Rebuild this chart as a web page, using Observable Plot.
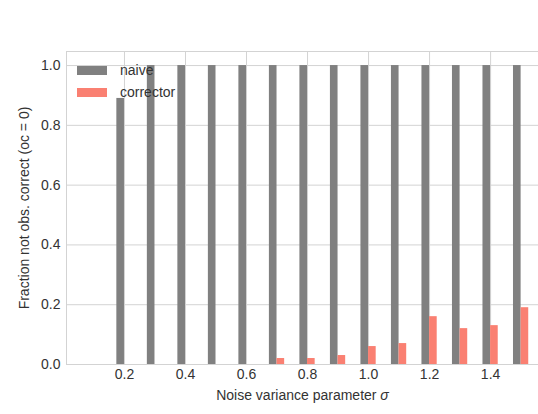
<!DOCTYPE html>
<html>
<head>
<meta charset="utf-8">
<script src="https://cdn.jsdelivr.net/npm/d3@7"></script>
<script src="https://cdn.jsdelivr.net/npm/@observablehq/plot@0.6"></script>
<style>
  html, body { margin: 0; padding: 0; background: #fff; }
  #wrap { position: relative; width: 538px; height: 414px; font-family: "Liberation Sans", Arial, sans-serif; }
  #legend { position: absolute; left: 77px; top: 59px; font-size: 14px; color: #333; }
  .li { display: flex; align-items: center; height: 22px; }
  .sw { width: 30px; height: 9px; margin-right: 13px; }
</style>
</head>
<body>
<div id="wrap"></div>
<script>
const sigmas = [0.2, 0.3, 0.4, 0.5, 0.6, 0.7, 0.8, 0.9, 1.0, 1.1, 1.2, 1.3, 1.4, 1.5];
const naive = [0.89, 1, 1, 1, 1, 1, 1, 1, 1, 1, 1, 1, 1, 1];
const corrector = [0, 0, 0, 0, 0, 0.02, 0.02, 0.03, 0.06, 0.07, 0.16, 0.12, 0.13, 0.19];
const seriesNames = ["naive", "corrector"];
const seriesColors = ["#808080", "#fa8072"];
const xTicks = [0.2, 0.4, 0.6, 0.8, 1.0, 1.2, 1.4];
const yTicks = [0, 0.2, 0.4, 0.6, 0.8, 1.0];
const xLabel = "Noise variance parameter ";
const xLabelSymbol = "σ";
const yLabel = "Fraction not obs. correct (oc = 0)";
const barWidth = 0.025;

const rows = [];
sigmas.forEach((s, i) => {
  rows.push({series: "naive", x1: s - barWidth, x2: s, y: naive[i]});
  rows.push({series: "corrector", x1: s, x2: s + barWidth, y: corrector[i]});
});

const chart = Plot.plot({
  width: 538,
  height: 414,
  marginLeft: 66,
  marginRight: 0,
  marginTop: 51,
  marginBottom: 50,
  style: {fontFamily: '"Liberation Sans", Arial, sans-serif', fontSize: "14px", color: "#333", background: "#fff"},
  x: {domain: [0.01, 1.557], label: null},
  y: {domain: [0, 1.047], label: null},
  color: {domain: seriesNames, range: seriesColors},
  marks: [
    Plot.gridY(yTicks, {stroke: "#d3d3d3", strokeOpacity: 1}),
    Plot.gridX(xTicks, {stroke: "#d3d3d3", strokeOpacity: 1}),
    Plot.frame({stroke: "#d3d3d3"}),
    Plot.rectY(rows, {x1: "x1", x2: "x2", y: "y", fill: "series"}),
    Plot.axisX({ticks: xTicks, tickFormat: d3.format(".1f"), tickSize: 0, tickPadding: 5, label: null, fontSize: 14}),
    Plot.axisY({ticks: yTicks, tickFormat: d3.format(".1f"), tickSize: 0, tickPadding: 6, label: null, fontSize: 14}),
    Plot.text([xLabel], {frameAnchor: "bottom", dy: 35, fontSize: 14, fill: "#333", text: d => d, className: "xlab"}),
    Plot.text([yLabel], {frameAnchor: "left", textAnchor: "middle", dx: -42, rotate: -90, fontSize: 14, fill: "#333", text: d => d})
  ]
});

// italic sigma appended to the x label
d3.select(chart).selectAll("g.xlab text").each(function() {
  const t = d3.select(this);
  t.text(xLabel);
  t.append("tspan").attr("font-style", "italic").text(xLabelSymbol);
});

const wrap = document.getElementById("wrap");
wrap.appendChild(chart);
const legend = document.createElement("div");
legend.id = "legend";
seriesNames.forEach((n, i) => {
  const li = document.createElement("div");
  li.className = "li";
  li.innerHTML = `<span class="sw" style="background:${seriesColors[i]}"></span><span>${n}</span>`;
  legend.appendChild(li);
});
wrap.appendChild(legend);
</script>
</body>
</html>
